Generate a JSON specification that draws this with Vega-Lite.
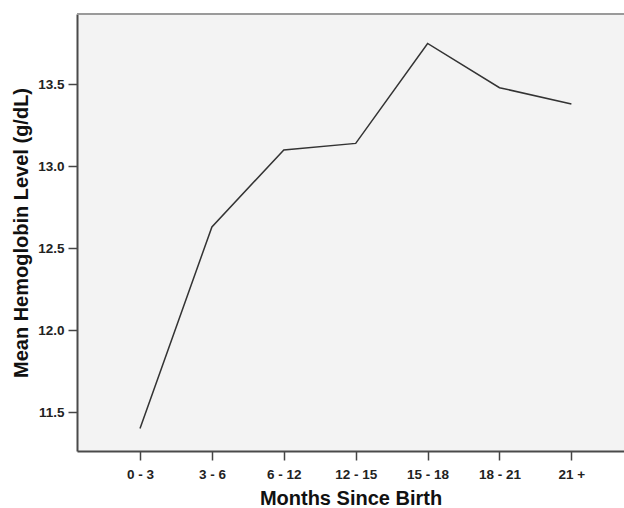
{
  "$schema": "https://vega.github.io/schema/vega-lite/v6.json",
  "autosize": "none",
  "padding": {"left": 77, "top": 14, "right": 0, "bottom": 57},
  "width": 547,
  "height": 437,
  "background": "white",
  "config": {
    "view": {"fill": "#f3f3f3", "stroke": null},
    "font": "Liberation Sans"
  },
  "data": {
    "values": [
      {"months": "0 - 3", "hb": 11.40},
      {"months": "3 - 6", "hb": 12.63},
      {"months": "6 - 12", "hb": 13.10},
      {"months": "12 - 15", "hb": 13.14},
      {"months": "15 - 18", "hb": 13.75},
      {"months": "18 - 21", "hb": 13.48},
      {"months": "21 +", "hb": 13.38}
    ]
  },
  "layer": [
    {
      "mark": {"type": "rule", "color": "#9a9a9a", "strokeWidth": 1.5},
      "encoding": {"y": {"datum": 13.93, "type": "quantitative", "scale": {"domain": [11.262, 13.93], "nice": false, "zero": false}}}
    },
    {
      "mark": {"type": "line", "color": "#333333", "strokeWidth": 1.5},
      "encoding": {
        "x": {
          "field": "months",
          "type": "ordinal",
          "sort": null,
          "scale": {"type": "point", "padding": 0.804, "align": 0.545},
          "axis": {
            "title": "Months Since Birth",
            "titleFontSize": 20,
            "titleFontWeight": "bold",
            "titleColor": "#111111",
            "titlePadding": 8,
            "labelFontSize": 13.5,
            "labelFontWeight": "bold",
            "labelColor": "#222222",
            "labelAngle": 0,
            "labelPadding": 7,
            "tickSize": 9,
            "tickWidth": 1.5,
            "tickColor": "#444444",
            "domainColor": "#4a4a4a",
            "domainWidth": 2,
            "grid": false
          }
        },
        "y": {
          "field": "hb",
          "type": "quantitative",
          "scale": {"domain": [11.262, 13.93], "nice": false, "zero": false},
          "axis": {
            "title": "Mean Hemoglobin Level (g/dL)",
            "titleFontSize": 20,
            "titleFontWeight": "bold",
            "titleColor": "#111111",
            "titlePadding": 6,
            "values": [11.5, 12, 12.5, 13, 13.5],
            "format": ".1f",
            "labelFontSize": 13.5,
            "labelFontWeight": "bold",
            "labelColor": "#222222",
            "labelPadding": 4,
            "tickSize": 9,
            "tickWidth": 1.5,
            "tickColor": "#444444",
            "domainColor": "#4a4a4a",
            "domainWidth": 2,
            "grid": false
          }
        }
      }
    }
  ]
}
